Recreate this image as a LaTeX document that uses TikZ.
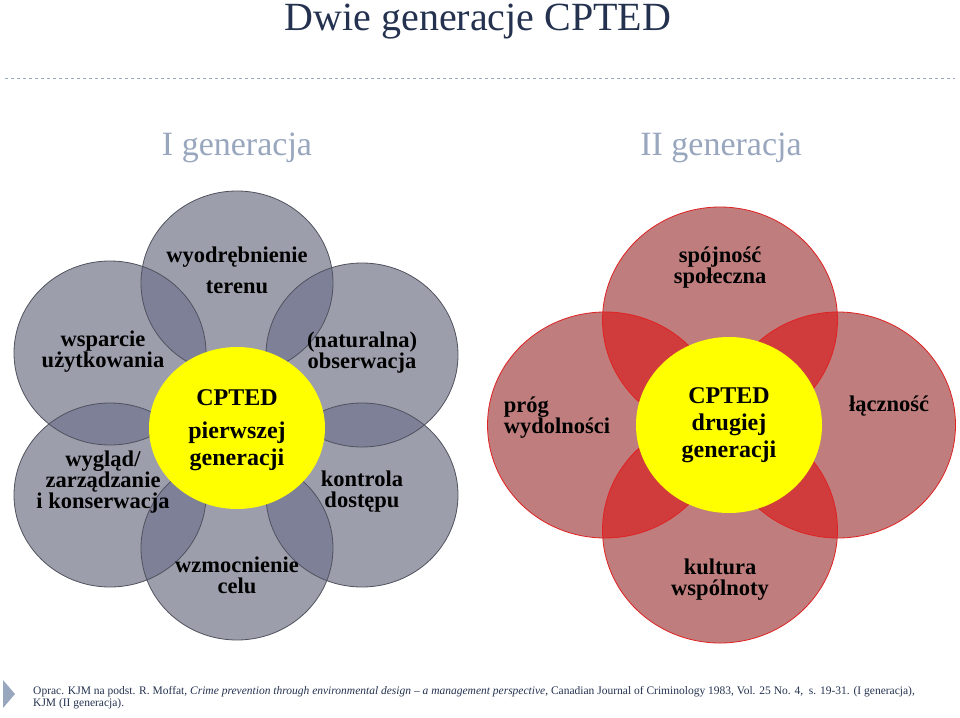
\documentclass[tikz,border=0pt]{standalone}
\usepackage{fontspec}
\setmainfont{Liberation Serif}
\definecolor{gfill}{HTML}{9C9EAB}
\definecolor{gover}{HTML}{7D8097}
\definecolor{gline}{HTML}{50525E}
\definecolor{rfill}{HTML}{BF7D7D}
\definecolor{rover}{HTML}{D03C3C}
\definecolor{rline}{HTML}{E02222}
\definecolor{titlec}{HTML}{243250}
\definecolor{subc}{HTML}{98A6BE}
\definecolor{cyel}{HTML}{FFFF00}
\tikzset{
  lbl/.style={font=\bfseries\fontsize{22.5}{21}\selectfont, align=center, text=black},
  clbl/.style={font=\bfseries\fontsize{24}{27}\selectfont, align=center, text=black},
}
\begin{document}
\begin{tikzpicture}[x=1pt,y=-1pt]
\useasboundingbox (0,0) rectangle (960,717);
\fill[white] (0,0) rectangle (960,717);
% title
\node[font=\fontsize{40}{44}\selectfont, text=titlec] (title) at (478,22) {Dwie generacje CPTED};
\draw[subc, dashed, line width=1pt] (5,78) -- (955,78);
\node[font=\fontsize{34}{38}\selectfont, text=subc] (g1) at (237,148) {I generacja};
\node[font=\fontsize{34}{38}\selectfont, text=subc] (g2) at (721,148) {II generacja};
% ---- left flower
\def\GR{(237,283) ellipse (96 and 92)}
\def\GUR{(362,355) ellipse (96 and 92)}
\def\GLR{(362,495) ellipse (96 and 92)}
\def\GB{(237,548) ellipse (96 and 92)}
\def\GLL{(110,495) ellipse (96 and 92)}
\def\GUL{(110,353) ellipse (96 and 92)}
\foreach \c in {\GR,\GUR,\GLR,\GB,\GLL,\GUL} {\fill[gfill] \c;}
\begin{scope}\clip \GR; \fill[gover] \GUR; \fill[gover] \GUL; \end{scope}
\begin{scope}\clip \GB; \fill[gover] \GLR; \fill[gover] \GLL; \end{scope}
\begin{scope}\clip \GUR; \fill[gover] \GLR; \end{scope}
\begin{scope}\clip \GUL; \fill[gover] \GLL; \end{scope}
\foreach \c in {\GR,\GUR,\GLR,\GB,\GLL,\GUL} {\draw[gline, line width=0.8pt] \c;}
\fill[cyel] (237,428) ellipse (88 and 81);
\node[lbl] (t1) at (237,257) {wyodrębnienie};
\node[lbl] (t1b) at (237,287) {terenu};
\node[lbl] (t2) at (362,353) {(naturalna)\\obserwacja};
\node[lbl] (t3) at (362,492) {kontrola\\dostępu};
\node[lbl] (t4) at (237,575) {wzmocnienie\\celu};
\node[lbl] (t5) at (103,482) {wygląd/\\zarządzanie\\i konserwacja};
\node[lbl] (t6) at (103,352) {wsparcie\\użytkowania};
\node[clbl] (c1) at (237,398) {CPTED};
\node[clbl, align=center] (c1b) at (237,446) {pierwszej\\generacji};
% ---- right flower
\def\RT{(720,320) ellipse (117.5 and 113)}
\def\RL{(605,425) ellipse (117.5 and 113)}
\def\RR{(838,425) ellipse (117.5 and 113)}
\def\RB{(720,530) ellipse (117.5 and 113)}
\foreach \c in {\RT,\RL,\RR,\RB} {\fill[rfill] \c;}
\begin{scope}\clip \RT; \fill[rover] \RL; \fill[rover] \RR; \end{scope}
\begin{scope}\clip \RB; \fill[rover] \RL; \fill[rover] \RR; \end{scope}
\foreach \c in {\RT,\RL,\RR,\RB} {\draw[rline, line width=0.8pt] \c;}
\fill[cyel] (729,425) ellipse (93 and 88);
\node[lbl] (r1) at (720,268) {spójność\\społeczna};
\node[lbl, align=left] (r2) at (557,418) {próg\\wydolności};
\node[lbl] (r3) at (889,406) {łączność};
\node[lbl] (r4) at (720,580) {kultura\\wspólnoty};
\node[clbl] (c2) at (729,425) {CPTED\\drugiej\\generacji};
% footer
\fill[subc] (3,680) -- (15,694) -- (3,708) -- cycle;
\node[anchor=north west, font=\fontsize{11.5}{13}\selectfont, text=titlec, align=left, inner sep=0pt] (foot) at (33,686)
{\scalebox{1.0}[1]{Oprac. KJM na podst. R. Moffat, \textit{Crime prevention through environmental design -- a management perspective}, Canadian Journal of Criminology 1983, Vol. 25 No. 4,\ \ s. 19-31. (I generacja),}\\[-1pt]KJM (II generacja).};
\end{tikzpicture}
\end{document}
